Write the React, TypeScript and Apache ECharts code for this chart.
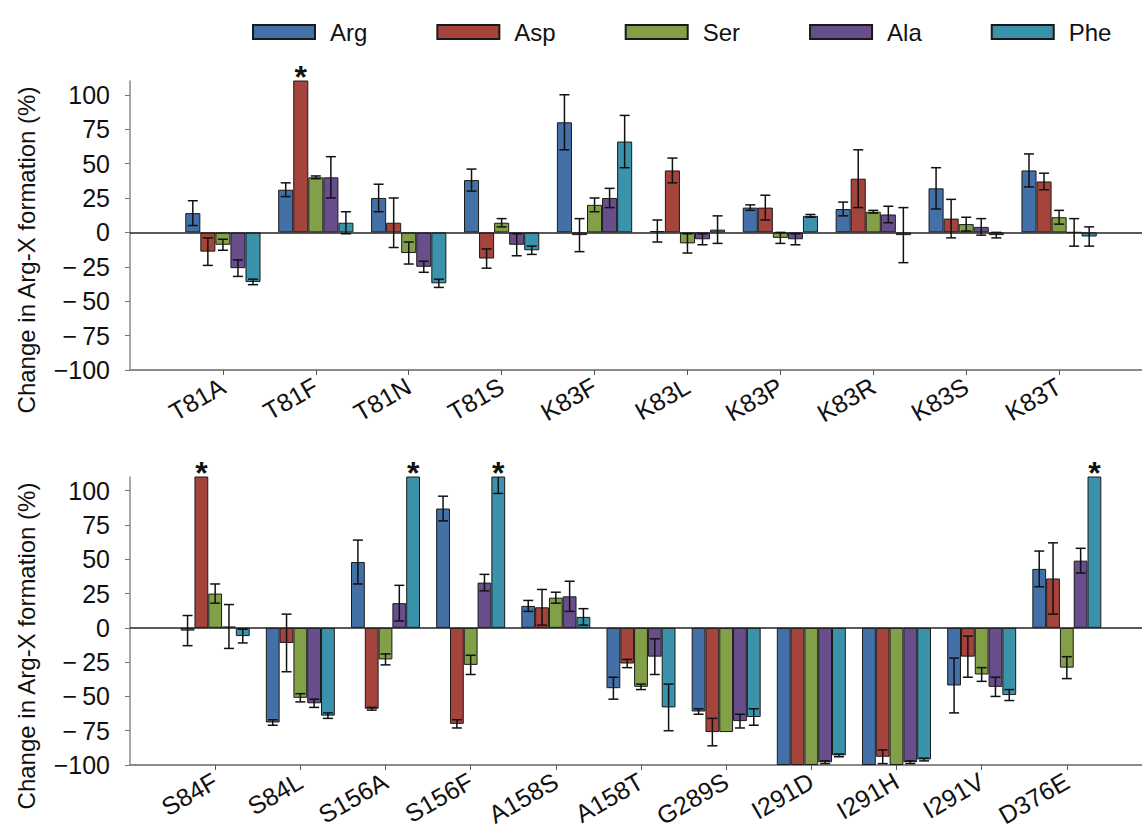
import React, { useEffect, useRef } from 'react';
import * as echarts from 'echarts';

const seriesNames = ['Arg', 'Asp', 'Ser', 'Ala', 'Phe'];
const seriesColors = ['#4470a8', '#a5433d', '#82a048', '#684f8c', '#3b92ab'];
const yTicks = [-100, -75, -50, -25, 0, 25, 50, 75, 100];
const yAxisTitle = 'Change in Arg-X formation (%)';

// Top panel
const topCategories = ['T81A', 'T81F', 'T81N', 'T81S', 'K83F', 'K83L', 'K83P', 'K83R', 'K83S', 'K83T'];
const topArg = [14, 31, 25, 38, 80, 1, 18, 17, 32, 45];
const topArgErr = [9, 5, 10, 8, 20, 8, 2, 5, 15, 12];
const topAsp = [-14, 120, 7, -19, -2, 45, 18, 39, 10, 37];
const topAspErr = [10, 0, 18, 7, 12, 9, 9, 21, 14, 6];
const topSer = [-9, 40, -15, 7, 20, -8, -4, 15, 6, 11];
const topSerErr = [4, 1, 8, 3, 5, 7, 4, 1, 5, 5];
const topAla = [-26, 40, -25, -9, 25, -5, -5, 13, 4, 0];
const topAlaErr = [6, 15, 4, 8, 7, 4, 4, 6, 6, 10];
const topPhe = [-36, 7, -37, -13, 66, 2, 12, -2, -2, -3];
const topPheErr = [2, 8, 3, 3, 19, 10, 1, 20, 2, 7];
const topStars = [[1, 1]]; // [category index, series index]

// Bottom panel
const bottomCategories = ['S84F', 'S84L', 'S156A', 'S156F', 'A158S', 'A158T', 'G289S', 'I291D', 'I291H', 'I291V', 'D376E'];
const botArg = [-2, -69, 48, 87, 16, -44, -61, -100, -100, -42, 43];
const botArgErr = [11, 2, 16, 9, 4, 8, 2, 0, 0, 20, 13];
const botAsp = [120, -11, -59, -70, 15, -26, -76, -100, -94, -21, 36];
const botAspErr = [0, 21, 1, 3, 13, 3, 10, 0, 5, 15, 26];
const botSer = [25, -51, -23, -27, 22, -43, -76, -100, -100, -34, -29];
const botSerErr = [7, 3, 4, 7, 4, 2, 0, 0, 0, 5, 8];
const botAla = [1, -55, 18, 33, 23, -21, -68, -98, -98, -43, 49];
const botAlaErr = [16, 3, 13, 6, 11, 13, 5, 1, 1, 7, 9];
const botPhe = [-6, -64, 120, 120, 8, -58, -65, -93, -96, -49, 120];
const botPheErr = [5, 2, 0, 22, 6, 17, 6, 1, 1, 4, 0];
const botStars = [[0, 1], [2, 4], [3, 4], [10, 4]];

const FONT = '"Liberation Sans", Arial, Helvetica, sans-serif';
const BAR_FRAC = 0.81;
const Y_MAX = 110;

function fmtY(v: number) {
  if (v < 0) {
    const a = Math.abs(v);
    return '\u2212' + (a < 100 ? '\u2009' : '') + a;
  }
  return String(v);
}

function buildPanel(
  gi: number,
  cats: string[],
  vals: number[][],
  errs: number[][],
  stars: number[][]
) {
  const xAxis = {
    type: 'category',
    gridIndex: gi,
    data: ['', ...cats, ''],
    boundaryGap: false,
    axisLine: { show: true, onZero: false, lineStyle: { color: '#8a8a8a', width: 2 } },
    axisTick: {
      show: true,
      length: 5,
      lineStyle: { color: '#555', width: 1 },
      interval: (_i: number, v: string) => v !== '',
    },
    axisLabel: {
      interval: 0,
      rotate: 30,
      fontSize: 25,
      color: '#111',
      margin: 14,
      fontFamily: FONT,
    },
    splitLine: { show: false },
  };
  const yAxis = {
    type: 'value',
    gridIndex: gi,
    min: -100,
    max: Y_MAX,
    interval: 25,
    splitLine: { show: false },
    axisLine: { show: true, lineStyle: { color: '#8a8a8a', width: 1.5 } },
    axisTick: { show: true, length: 5, lineStyle: { color: '#777' }, customValues: yTicks },
    axisLabel: {
      customValues: yTicks,
      formatter: (v: number) => fmtY(v),
      fontSize: 25,
      color: '#111',
      margin: 20,
      fontFamily: FONT,
    },
  };
  const series: any[] = seriesNames.map((name, j) => ({
    type: 'bar',
    name,
    xAxisIndex: gi,
    yAxisIndex: gi,
    barGap: '0%',
    barCategoryGap: '19%',
    data: vals[j].map((v, i) => [i + 1, v]),
    itemStyle: { color: seriesColors[j], borderColor: '#1a1a1a', borderWidth: 1 },
    ...(j === 0
      ? {
          markLine: {
            silent: true,
            symbol: ['none', 'none'],
            label: { show: false },
            lineStyle: { color: '#222', width: 1.5, type: 'solid' },
            data: [{ yAxis: 0 }],
          },
        }
      : {}),
  }));

  const errData: number[][] = [];
  seriesNames.forEach((_n, j) => {
    vals[j].forEach((v, i) => {
      errData.push([i + 1, v, errs[j][i], j]);
    });
  });

  series.push({
    type: 'custom',
    xAxisIndex: gi,
    yAxisIndex: gi,
    clip: true,
    z: 5,
    encode: { x: 0, y: 1 },
    data: errData,
    renderItem: (_params: any, api: any) => {
      const ci = api.value(0);
      const v = api.value(1);
      const e = api.value(2);
      const j = api.value(3);
      if (!e) return null;
      const band = api.size([1, 0])[0];
      const bw = (band * BAR_FRAC) / 5;
      const x = api.coord([ci, v])[0] + (j - 2) * bw;
      const yTop = api.coord([ci, v + e])[1];
      const yBot = api.coord([ci, v - e])[1];
      const cap = 5;
      const st = { stroke: '#111', lineWidth: 1.5 };
      return {
        type: 'group',
        children: [
          { type: 'line', shape: { x1: x, y1: yTop, x2: x, y2: yBot }, style: st },
          { type: 'line', shape: { x1: x - cap, y1: yTop, x2: x + cap, y2: yTop }, style: st },
          { type: 'line', shape: { x1: x - cap, y1: yBot, x2: x + cap, y2: yBot }, style: st },
        ],
      };
    },
  });

  series.push({
    type: 'custom',
    xAxisIndex: gi,
    yAxisIndex: gi,
    clip: false,
    z: 6,
    encode: { x: 0, y: 1 },
    data: stars.map(([ci, j]) => [ci + 1, Y_MAX, j]),
    renderItem: (_params: any, api: any) => {
      const ci = api.value(0);
      const j = api.value(2);
      const band = api.size([1, 0])[0];
      const bw = (band * BAR_FRAC) / 5;
      const p = api.coord([ci, Y_MAX]);
      return {
        type: 'text',
        x: p[0] + (j - 2) * bw,
        y: p[1] - 4,
        style: {
          text: '*',
          fontSize: 32,
          fontWeight: 'bold',
          fontFamily: FONT,
          fill: '#111',
          align: 'center',
          verticalAlign: 'middle',
        },
      };
    },
  });

  return { xAxis, yAxis, series };
}

export default function App() {
  const ref = useRef<HTMLDivElement>(null);
  useEffect(() => {
    document.body.style.margin = '0';
    if (!ref.current) return;
    const chart = echarts.init(ref.current, null, { renderer: 'svg' });
    const top = buildPanel(
      0,
      topCategories,
      [topArg, topAsp, topSer, topAla, topPhe],
      [topArgErr, topAspErr, topSerErr, topAlaErr, topPheErr],
      topStars
    );
    const bot = buildPanel(
      1,
      bottomCategories,
      [botArg, botAsp, botSer, botAla, botPhe],
      [botArgErr, botAspErr, botSerErr, botAlaErr, botPheErr],
      botStars
    );
    chart.setOption({
      animation: false,
      backgroundColor: '#ffffff',
      textStyle: { fontFamily: FONT },
      legend: {
        data: seriesNames,
        top: 15,
        left: 247,
        icon: 'rect',
        itemWidth: 62,
        itemHeight: 14,
        itemGap: 69,
        textStyle: { fontSize: 24, color: '#111', padding: [0, 0, 0, 10], fontFamily: FONT },
      },
      grid: [
        { left: 130, top: 81, height: 289, right: -10, outerBoundsMode: 'none' },
        { left: 130, top: 477, height: 288, right: -10, outerBoundsMode: 'none' },
      ],
      xAxis: [top.xAxis, bot.xAxis],
      yAxis: [top.yAxis, bot.yAxis],
      graphic: [
        {
          type: 'text',
          x: 26,
          y: 250,
          rotation: Math.PI / 2,
          style: {
            text: yAxisTitle,
            fontSize: 24,
            fontFamily: FONT,
            fill: '#111',
            align: 'center',
            verticalAlign: 'middle',
          },
        },
        {
          type: 'text',
          x: 26,
          y: 646,
          rotation: Math.PI / 2,
          style: {
            text: yAxisTitle,
            fontSize: 24,
            fontFamily: FONT,
            fill: '#111',
            align: 'center',
            verticalAlign: 'middle',
          },
        },
      ],
      series: [...top.series, ...bot.series],
    });
    return () => chart.dispose();
  }, []);
  return <div ref={ref} style={{ width: 1142, height: 836 }} />;
}
